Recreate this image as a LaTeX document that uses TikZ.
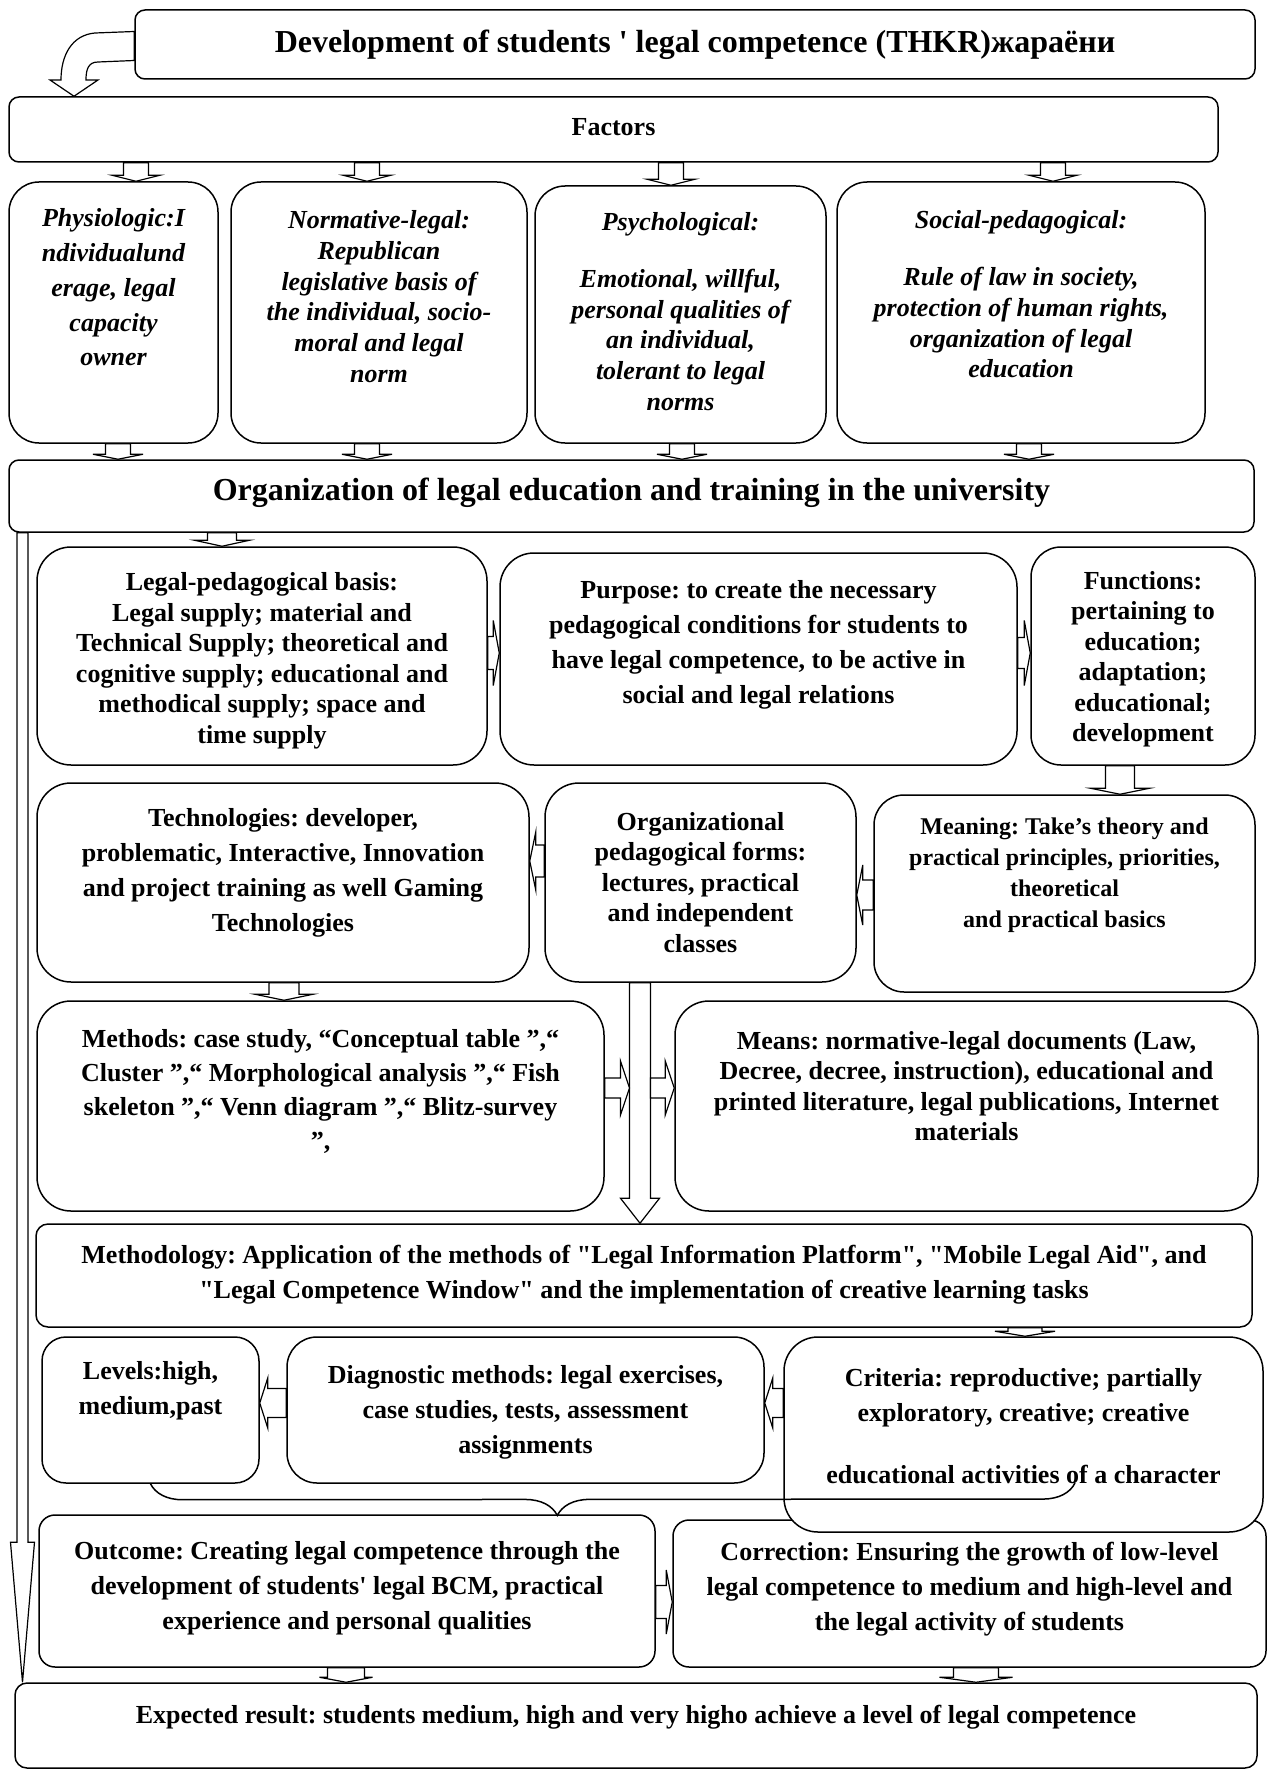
\documentclass[tikz,border=0pt]{standalone}
\usepackage{fontspec}
\setmainfont{Liberation Serif}[Ligatures=TeXOff]
\frenchspacing
\usetikzlibrary{calc,fit,decorations.pathreplacing}
\tikzset{
  rbox/.style={draw,fill=white,rounded corners=15pt,line width=0.75pt,inner sep=0pt},
  sbox/.style={draw,fill=white,rounded corners=5pt,line width=0.75pt,inner sep=0pt},
  txt/.style={align=center,inner sep=0pt,font=\fontsize{13}{15.25}\selectfont\bfseries},
  ltxt/.style={align=center,inner sep=0pt,font=\fontsize{13}{17.5}\selectfont\bfseries},
  itxt/.style={align=center,inner sep=0pt,font=\fontsize{13}{15.35}\selectfont\bfseries\itshape},
  htxt/.style={align=center,inner sep=0pt,font=\fontsize{16}{19}\selectfont\bfseries},
  blk/.style={draw,fill=white,line width=0.6pt,line join=miter},
  brc/.style={draw,line width=0.75pt,decorate,decoration={brace,mirror,amplitude=16pt,aspect=0.44}},
}
% block arrows: position, from, to, shaft half width, head half width, head length
\newcommand{\blkdown}[6]{%
  \coordinate (ax) at (#1,0);
  \draw[blk] (ax |- #3) -- ++(-#5,-#6) -- ++(#5-#4,0) -- ($(ax |- #2)+(-#4,0)$)
    -- ++(2*#4,0) -- ($(ax |- #3)+(#4,-#6)$) -- ++(#5-#4,0) -- cycle;}
\newcommand{\blkright}[6]{%
  \coordinate (ay) at (0,#1);
  \draw[blk] (#3 |- ay) -- ++(-#6,-#5) -- ++(0,#5-#4) -- ($(#2 |- ay)+(0,-#4)$)
    -- ++(0,2*#4) -- ($(#3 |- ay)+(-#6,#4)$) -- ++(0,#5-#4) -- cycle;}
\newcommand{\blkleft}[6]{%
  \coordinate (ay) at (0,#1);
  \draw[blk] (#3 |- ay) -- ++(#6,-#5) -- ++(0,#5-#4) -- ($(#2 |- ay)+(0,-#4)$)
    -- ++(0,2*#4) -- ($(#3 |- ay)+(#6,#4)$) -- ++(0,#5-#4) -- cycle;}

\begin{document}
\begin{tikzpicture}[x=0.5pt,y=-0.5pt]
  \useasboundingbox (0,0) rectangle (1268,1771);
  % head
  \node[sbox,fit={(135,10) (1255,79)}] (title) {};
  \node[htxt] (title-t) at (title) {Development of students ' legal competence (THKR)жараёни};
  \node[sbox,fit={(9,97) (1218,162)}] (factors) {};
  \node[txt] (factors-t) at ($(factors)+(0,-2)$) {Factors};
  \node[sbox,fit={(9,460) (1254,532)}] (org) {};
  \node[htxt] (org-t) at ($(org)+(0,-3)$) {Organization of legal education and training in the university};
  \coordinate (ctip) at (74,0);
  \draw[blk] ($(title.west)+(0,-13)$) -- (95,33) .. controls (72,35) and (61,55) .. (61,80) -- (50,80)
    -- (ctip |- factors.north) -- (98,80) -- (86,80) .. controls (86,70) and (88,62) .. (98,62)
    -- ($(title.west)+(0,16)$) -- cycle;
  % factors
  \foreach \n/\xa/\ya/\xb/\dy/\ta/\tb/\t in {
      1/9/182/218/-25/136/118/{Physiologic:I\\[2pt]ndividualund\\[2pt]erage, legal\\[2pt]capacity\\[2pt]owner},
      2/231/182/527/-16/367/367/{Normative-legal:\\Republican\\legislative basis of\\the individual, socio-\\moral and legal\\norm},
      3/535/186/826/-3/671/682/{Psychological:\\[13pt]Emotional, willful,\\personal qualities of\\an individual,\\tolerant to legal\\norms},
      4/837/182/1205/-18/1053/1029/{Social-pedagogical:\\[13pt]Rule of law in society,\\protection of human rights,\\organization of legal\\education}} {
    \node[rbox,fit={(\xa,\ya) (\xb,443)}] (F\n) {};
    \node[itxt] (F\n-t) at ($(F\n)+(0,\dy)$) {\t};
    \blkdown{\ta}{factors.south}{F\n.north}{12.5}{24}{6}
    \blkdown{\tb}{F\n.south}{org.north}{12.5}{25}{5}
  }
  % basis, purpose, functions
  \node[rbox,rounded corners=17pt,fit={(37,547) (487,765)}] (basis) {};
  \node[txt] (basis-t) at ($(basis)+(0,5)$) {Legal-pedagogical basis:\\Legal supply; material and\\Technical Supply; theoretical and\\cognitive supply; educational and\\methodical supply; space and\\time supply};
  \node[rbox,rounded corners=17pt,fit={(500,553) (1017,765)}] (purpose) {};
  \node[ltxt] (purpose-t) at ($(purpose)+(0,-14.5)$) {Purpose: to create the necessary\\pedagogical conditions for students to\\have legal competence, to be active in\\social and legal relations};
  \node[rbox,fit={(1031,547) (1255,765)}] (functions) {};
  \node[txt] (functions-t) at ($(functions)+(0,3)$) {Functions:\\pertaining to\\education;\\adaptation;\\educational;\\development};
  \blkdown{222}{org.south}{basis.north}{14.5}{27.5}{6}
  \blkright{653}{basis.east}{purpose.west}{16.5}{32.5}{6}
  \blkright{653}{purpose.east}{functions.west}{15.5}{32.5}{6}
  % technologies, forms, meaning
  \node[rbox,rounded corners=17pt,fit={(37,783) (529,982)}] (tech) {};
  \node[ltxt] (tech-t) at ($(tech)+(0,-9.5)$) {Technologies: developer,\\problematic, Interactive, Innovation\\and project training as well Gaming\\Technologies};
  \node[rbox,rounded corners=17pt,fit={(545,783) (856,982)}] (forms) {};
  \node[txt] (forms-t) at (forms) {Organizational\\pedagogical forms:\\lectures, practical\\and independent\\classes};
  \node[rbox,fit={(874,795) (1255,992)}] (meaning) {};
  \node[txt,font=\fontsize{12}{15.5}\selectfont\bfseries] (meaning-t) at ($(meaning)+(0,-18.5)$) {Meaning: Take’s theory and\\practical principles, priorities,\\theoretical\\and practical basics};
  \blkdown{1120}{functions.south}{meaning.north}{14.5}{29.5}{6}
  \blkleft{861}{forms.west}{tech.east}{16}{29}{6}
  \blkleft{895}{meaning.west}{forms.east}{15}{30}{6}
  % methods, means
  \node[rbox,rounded corners=17pt,fit={(37,1001) (604,1211)}] (methods) {};
  \node[txt,font=\fontsize{13}{17}\selectfont\bfseries] (methods-t) at ($(methods)+(0,-15)$) {Methods: case study, “Conceptual table ”,“\\Cluster ”,“ Morphological analysis ”,“ Fish\\skeleton ”,“ Venn diagram ”,“ Blitz-survey\\”,};
  \node[rbox,rounded corners=17pt,fit={(675,1001) (1258,1211)}] (means) {};
  \node[txt] (means-t) at ($(means)+(0,-20)$) {Means: normative-legal documents (Law,\\Decree, decree, instruction), educational and\\printed literature, legal publications, Internet\\materials};
  \blkdown{284}{tech.south}{methods.north}{15}{29}{6}
  \node[sbox,rounded corners=6pt,fit={(36,1224) (1252,1327)}] (method) {};
  \node[ltxt] (method-t) at ($(method)+(0,-1)$) {Methodology: Application of the methods of "Legal Information Platform", "Mobile Legal Aid", and\\"Legal Competence Window" and the implementation of creative learning tasks};
  \blkdown{640}{forms.south}{method.north}{10.5}{19.5}{25}
  \coordinate (bigL) at (629.5,0);
  \coordinate (bigR) at (650.5,0);
  \blkright{1088}{methods.east}{bigL}{10}{27}{9}
  \blkright{1088}{bigR}{means.west}{10}{27}{9}
  % diagnostics
  \node[rbox,rounded corners=12pt,fit={(42,1337) (259,1483)}] (levels) {};
  \node[ltxt] (levels-t) at ($(levels)+(0,-19.5)$) {Levels:high,\\medium,past};
  \node[rbox,fit={(287,1337) (764,1483)}] (diag) {};
  \node[ltxt] (diag-t) at ($(diag)+(0,2)$) {Diagnostic methods: legal exercises,\\case studies, tests, assessment\\assignments};
  \node[rbox,rounded corners=8pt,fit={(673,1520) (1266,1667)}] (correct) {};
  \node[rbox,rounded corners=17pt,fit={(784,1337) (1263,1532)}] (criteria) {};
  \node[ltxt] (criteria-t) at ($(criteria)+(0,-8)$) {Criteria: reproductive; partially\\exploratory, creative; creative\\[13.5pt]educational activities of a character};
  \blkdown{1025}{method.south}{criteria.north}{17}{30}{5}
  \blkleft{1403}{diag.west}{levels.east}{14.5}{25}{8}
  \blkleft{1403}{criteria.west}{diag.east}{14.5}{25}{8}
  % outcome, correction
  \node[rbox,rounded corners=8pt,fit={(39,1515) (655,1667)}] (outcome) {};
  \node[ltxt] (outcome-t) at ($(outcome)+(0,-3)$) {Outcome: Creating legal competence through the\\development of students' legal BCM, practical\\experience and personal qualities};
  \node[ltxt] (correct-t) at ($(correct)+(0,-4.5)$) {Correction: Ensuring the growth of low-level\\legal competence to medium and high-level and\\the legal activity of students};
  \blkright{1602}{outcome.east}{correct.west}{16.5}{32}{6}
  \coordinate (bend) at (1075,1483);
  \draw[brc] (levels.south) -- (bend);
  % result
  \node[sbox,rounded corners=6pt,fit={(15,1683) (1257,1768)}] (expected) {};
  \node[txt] (expected-t) at ($(expected)+(0,-8.5)$) {Expected result: students medium, high and very higho achieve a level of legal competence};
  \blkdown{346}{outcome.south}{expected.north}{18.5}{26.5}{5}
  \blkdown{976}{correct.south}{expected.north}{22.5}{36.5}{5}
  \blkdown{22.5}{org.south}{expected.north}{5.5}{12}{140}
\end{tikzpicture}
\end{document}
